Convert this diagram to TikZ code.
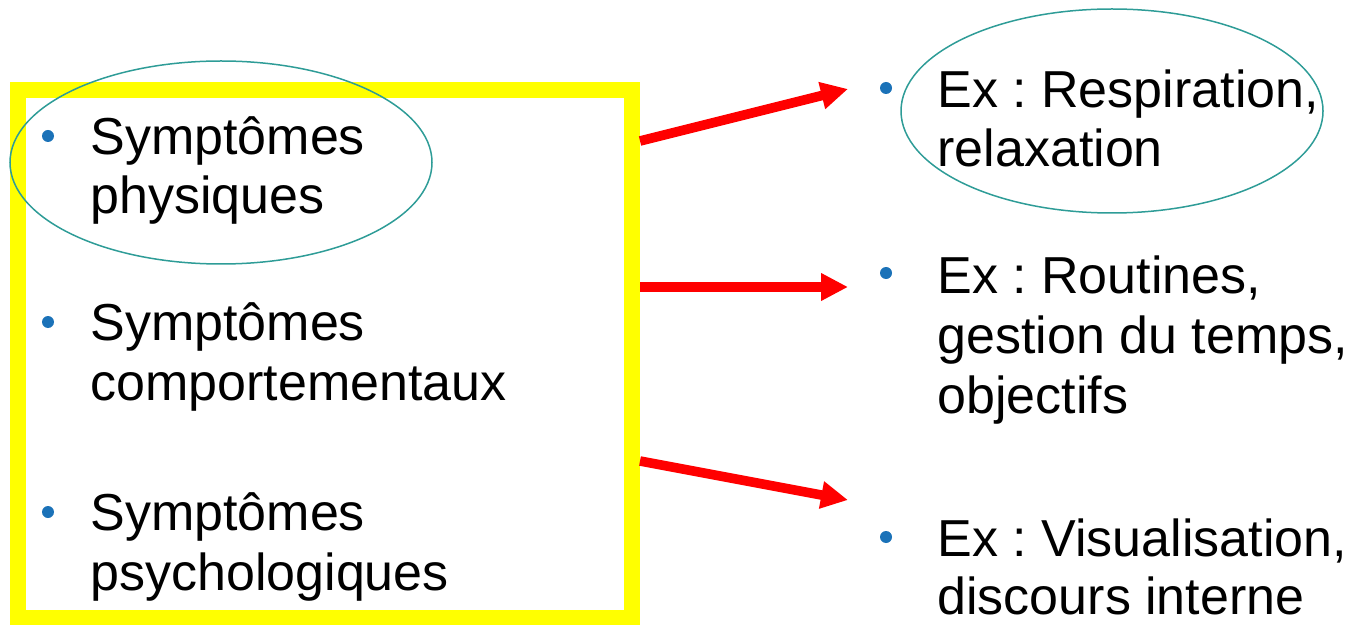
\documentclass[tikz,border=0pt]{standalone}
\usepackage{fontspec}
\setmainfont{Liberation Sans}
\usepackage{xcolor}
\usepackage{tikz}
\usetikzlibrary{arrows.meta}
\frenchspacing
\definecolor{figyellow}{HTML}{FFFF00}
\definecolor{figred}{HTML}{FF0000}
\definecolor{figteal}{HTML}{2E9C97}
\definecolor{figdot}{HTML}{1B72B8}
\tikzset{
  every picture/.append style={font=\fontsize{26}{30}\selectfont},
  itemtext/.style={anchor=base west,inner sep=0pt,text=black},
  dot/.style={circle,fill=figdot,inner sep=0pt,minimum size=6pt},
  symbox/.style={draw=figyellow,line width=8pt,inner sep=0pt,minimum width=307pt,minimum height=264pt},
  bigarrow/.style={draw=figred,line width=4.8pt,-{Triangle[length=13.5pt,width=13pt]}},
  ring/.style={draw=figteal,line width=0.75pt}
}

\begin{document}
\begin{tikzpicture}[x=0.5pt,y=-0.5pt]
    \useasboundingbox (0,0) rectangle (1352,625);
    \node[symbox] (box) at (325,354) {};
    \foreach \n/\x/\y/\t in {sa/90/155/Symptômes, sb/90/214/physiques,
                             sc/90/340/Symptômes, sd/90/400/comportementaux,
                             se/90/530/Symptômes, sf/90/590/psychologiques,
                             ea/937/108/{Ex : Respiration,}, eb/937/167/relaxation,
                             ec/937/293/{Ex : Routines,}, ed/937/353/{gestion du temps,},
                             ee/937/413/objectifs,
                             ef/937/556/{Ex : Visualisation,}, eg/937/614/discours interne} {
      \node[itemtext] (\n) at (\x,\y) {\t};
    }
    \foreach \n/\x/\y in {da/48/136, db/48/322, dc/48/512,
                          dd/886/88, de/886/273, df/886/537} {
      \node[dot] (\n) at (\x,\y) {};
    }
    \draw[ring] (221,162.5) ellipse [x radius=211,y radius=101.5];
    \draw[ring] (1112,111) ellipse [x radius=211,y radius=102];
    \coordinate (s1) at (640,141);
    \coordinate (s2) at (640,287);
    \coordinate (s3) at (640,461);
    \coordinate (t1) at (848,89);
    \coordinate (t2) at (848,287);
    \coordinate (t3) at (848,500);
    \draw[bigarrow] (s1) -- (t1);
    \draw[bigarrow] (s2) -- (t2);
    \draw[bigarrow] (s3) -- (t3);
  \end{tikzpicture}
\end{document}
